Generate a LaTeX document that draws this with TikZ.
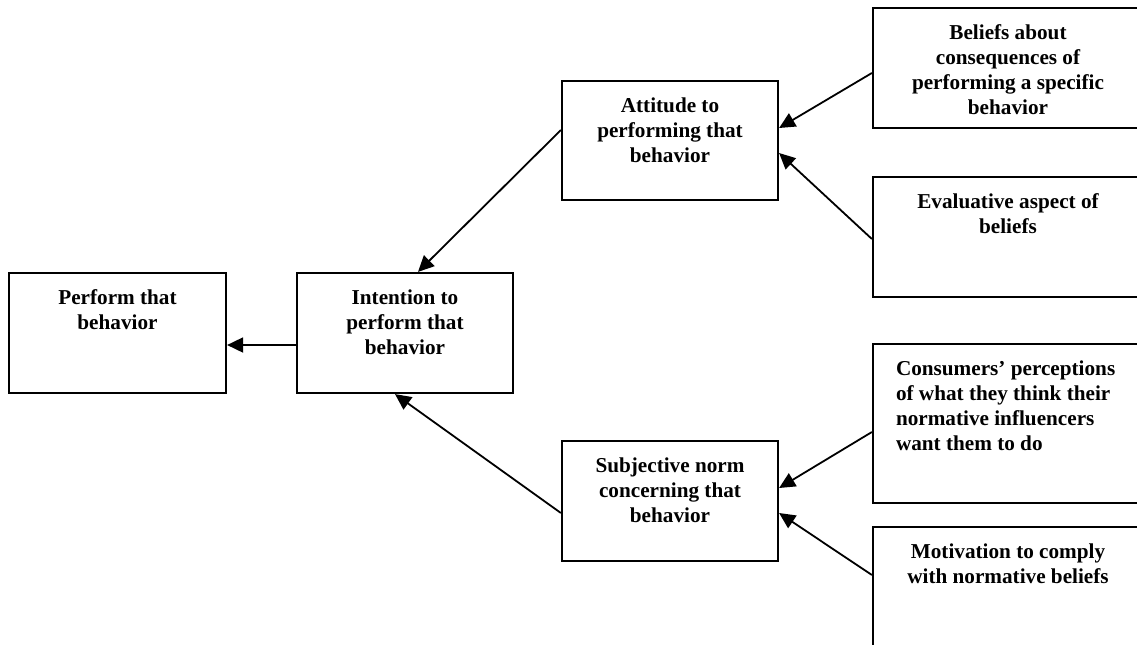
\documentclass[tikz,border=0pt]{standalone}
\usepackage{fontspec}
\setmainfont{Liberation Serif}
\usetikzlibrary{arrows.meta}

% text set at the top of a box of given height and width
\newcommand{\boxtext}[4][\centering]{\parbox[t][#2][t]{#3}{#1\rule{0pt}{15.5pt}#4}}

\begin{document}
\begin{tikzpicture}[x=0.5pt,y=-0.5pt]
    \tikzstyle{box} = [draw, line width=1.1pt, inner sep=0pt,
    font=\fontsize{10.6pt}{12.5pt}\selectfont\bfseries]
    \tikzstyle{arr} = [-{Triangle[length=8pt,width=7.5pt]}, line width=0.9pt]

    \useasboundingbox (0,0) rectangle (1137,644);
    \clip (0,0) rectangle (1137,644);

    \draw
    (117.5,333) node [box] (perform) {\boxtext{60pt}{108.5pt}{Perform that\\behavior}}
    (405,333) node [box] (intention) {\boxtext{60pt}{108pt}{Intention to\\perform that\\behavior}}
    (670,140.5) node [box] (attitude) {\boxtext{59.5pt}{108pt}{Attitude to\\performing that\\behavior}}
    (670,501) node [box] (norm) {\boxtext{60pt}{108pt}{Subjective norm\\concerning that\\behavior}}

    (1008,68) node [box] (beliefs) {\boxtext{60pt}{135pt}{Beliefs about\\consequences of\\performing a specific\\behavior}}
    (1008,237) node [box] (evaluative) {\boxtext{60pt}{135pt}{Evaluative aspect of\\beliefs}}
    (1008,423.5) node [box] (perceptions) {\boxtext[\raggedright\leftskip=11.5pt\relax]{79.5pt}{135pt}{Consumers’ perceptions\\of what they think their\\normative influencers\\want them to do}}
    (1008,617) node [box] (motivation) {\boxtext{90pt}{135pt}{Motivation to comply\\with normative beliefs}}
;

    \draw[arr] ([yshift=-6pt]intention.west) -- ([yshift=-6pt]perform.east);
    \draw[arr] ([yshift=5.25pt]attitude.west) -- ([xshift=6.5pt]intention.north);
    \draw[arr] ([yshift=-6pt]norm.west) -- ([xshift=-5pt]intention.south);

    \draw[arr] ([yshift=-2.5pt]beliefs.west) -- ([yshift=6.25pt]attitude.east);
    \draw[arr] ([yshift=-1pt]evaluative.west) -- ([yshift=-6.25pt]attitude.east);
    \draw[arr] ([yshift=-4.25pt]perceptions.west) -- ([yshift=6.5pt]norm.east);
    \draw[arr] ([yshift=21pt]motivation.west) -- ([yshift=-6pt]norm.east);

  \end{tikzpicture}
\end{document}
